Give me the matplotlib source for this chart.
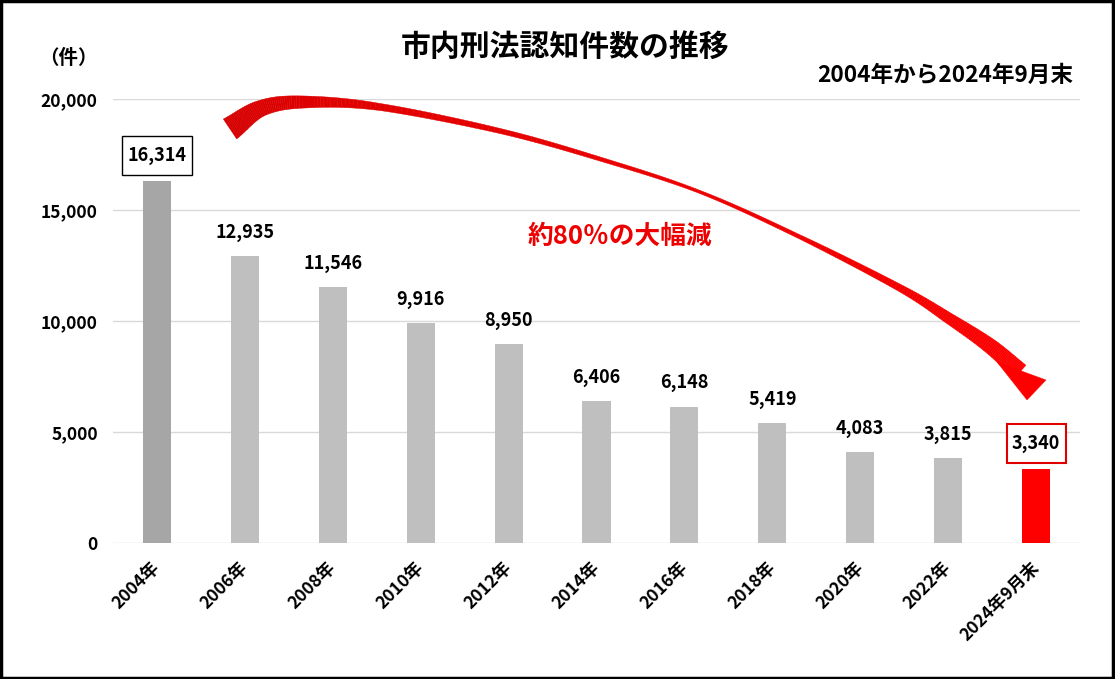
import matplotlib
matplotlib.use("Agg")
import matplotlib.pyplot as plt
from matplotlib.patches import Polygon, Rectangle
from matplotlib.path import Path
import numpy as np

plt.rcParams['font.family'] = ['Noto Sans CJK JP', 'DejaVu Sans']

# data
years = ['2004年', '2006年', '2008年', '2010年', '2012年', '2014年',
         '2016年', '2018年', '2020年', '2022年', '2024年9月末']
counts = [16314, 12935, 11546, 9916, 8950, 6406, 6148, 5419, 4083, 3815, 3340]
colors = ['#A6A6A6'] + ['#BFBFBF'] * 9 + ['#FF0000']

W, H = 1115, 679
fig = plt.figure(figsize=(W / 100, H / 100), dpi=100)
ax = fig.add_axes([113 / W, 1 - 543 / H, (1080 - 113) / W, (543 - 99) / H])

x = np.arange(len(years))
ax.bar(x, counts, width=0.32, color=colors, zorder=2)
ax.set_xlim(-0.5, len(years) - 0.5)
ax.set_ylim(0, 20000)
ax.set_yticks(range(0, 20001, 5000))
ax.set_yticklabels([f'{v:,}' for v in range(0, 20001, 5000)],
                   fontsize=12.5, fontweight='bold')
ax.set_xticks(x)
ax.set_xticklabels(years, rotation=45, ha='right', va='center',
                   rotation_mode='anchor', fontsize=12.5, fontweight='bold')
ax.tick_params(axis='y', length=0, pad=11)
ax.tick_params(axis='x', length=0, pad=16)
ax.grid(axis='y', color='#D9D9D9', lw=1, zorder=0)
for s in ax.spines.values():
    s.set_visible(False)


def tallbox(x0, y0, width, height, mutation_size):
    px, py = 0.3 * mutation_size, 0.55 * mutation_size
    a, b = x0 - px, y0 - py
    c, d = x0 + width + px, y0 + height + py
    return Path([(a, b), (c, b), (c, d), (a, d), (a, b)], closed=True)


# value labels
for i, v in enumerate(counts):
    if i == 0:
        ax.annotate(f'{v:,}', (i, v), xytext=(0, 18), textcoords='offset points',
                    ha='center', va='center', fontsize=13, fontweight='bold',
                    bbox=dict(boxstyle=tallbox, fc='white', ec='black', lw=1))
    elif i == len(counts) - 1:
        ax.annotate(f'{v:,}', (i, v), xytext=(0, 18.5), textcoords='offset points',
                    ha='center', va='center', fontsize=13, fontweight='bold',
                    bbox=dict(boxstyle=tallbox, fc='white', ec='#E00000', lw=1.5))
    else:
        ax.annotate(f'{v:,}', (i, v), xytext=(0, 17), textcoords='offset points',
                    ha='center', va='center', fontsize=13, fontweight='bold')

# texts
fig.text(565 / W, 1 - 47 / H, '市内刑法認知件数の推移', ha='center', va='center',
         fontsize=21.5, fontweight='bold')
fig.text(1073 / W, 1 - 75 / H, '2004年から2024年9月末', ha='right', va='center',
         fontsize=16.3, fontweight='bold')
fig.text(68 / W, 1 - 58 / H, '（件）', ha='center', va='center',
         fontsize=14, fontweight='bold')
fig.text(620 / W, 1 - 236 / H, '約80％の大幅減', ha='center', va='center',
         fontsize=18.5, fontweight='bold', color='#EE0000')

# curved arrow overlay (pixel coords)
ov = fig.add_axes([0, 0, 1, 1])
ov.set_xlim(0, W)
ov.set_ylim(H, 0)
ov.axis('off')
ov.patch.set_alpha(0)

pts = np.array([(230, 129), (262, 108), (305, 102), (380, 107), (500, 131),
                (600, 159), (700, 192), (800, 237), (900, 288), (950, 319),
                (990, 346), (1020, 372)], float)
wid = np.array([24, 16, 12, 7, 5, 4, 3, 4, 7, 11, 15, 18], float)


def catmull(p, n=20):
    p = np.vstack([p[0] * 2 - p[1], p, p[-1] * 2 - p[-2]])
    out = []
    for k in range(1, len(p) - 2):
        t = np.linspace(0, 1, n, endpoint=False)[:, None]
        a, b, c, d = p[k - 1], p[k], p[k + 1], p[k + 2]
        out.append(0.5 * ((2 * b) + (-a + c) * t + (2 * a - 5 * b + 4 * c - d) * t ** 2
                          + (-a + 3 * b - 3 * c + d) * t ** 3))
    out.append(p[-2][None, :])
    return np.vstack(out)


curve = catmull(pts)
w = np.interp(np.linspace(0, len(pts) - 1, len(curve)), np.arange(len(pts)), wid)
dv = np.gradient(curve, axis=0)
nrm = np.stack([-dv[:, 1], dv[:, 0]], axis=1)
nrm /= np.linalg.norm(nrm, axis=1)[:, None]
up = curve + nrm * w[:, None] / 2
lo = curve - nrm * w[:, None] / 2

c0 = np.array([0.84, 0.0, 0.0])
c1 = np.array([1.0, 0.0, 0.0])
for k in range(len(curve) - 1):
    f = k / (len(curve) - 1)
    col = c0 + (c1 - c0) * f
    ov.add_patch(Polygon([up[k], up[k + 1], lo[k + 1], lo[k]], closed=True,
                         fc=col, ec=col, lw=0.3))
ov.add_patch(Polygon([(997, 362), (1046, 380), (1027, 400)], closed=True,
                     fc='#FF0000', ec='#FF0000', lw=0.3))

# frame
fig.patches.append(Rectangle((0.001, 0.002), 0.997, 0.996, transform=fig.transFigure,
                             fill=False, ec='black', lw=2.5))

fig.savefig('out.png', dpi=100)
